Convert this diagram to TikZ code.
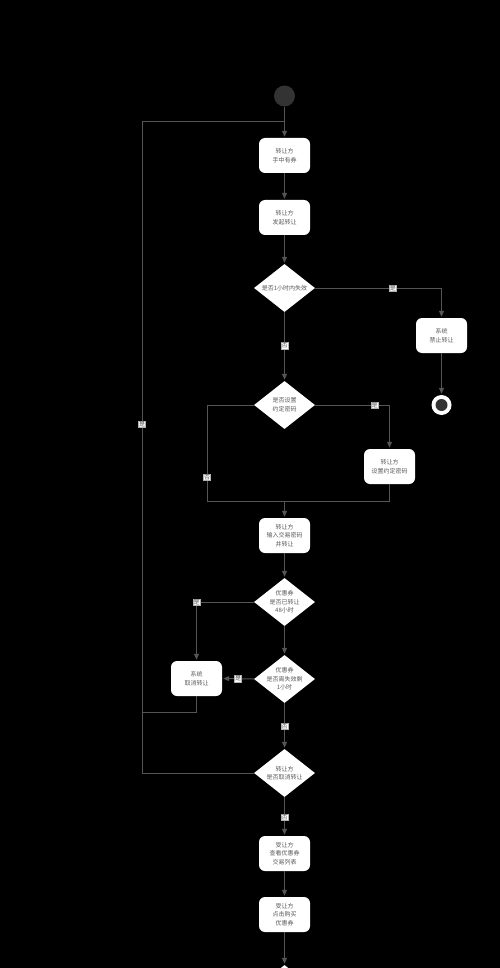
\documentclass[tikz,border=0pt]{standalone}
\usepackage{fontspec}
\newfontfamily\cjk{Noto Sans CJK SC}
\usetikzlibrary{shapes.geometric,arrows.meta}
\definecolor{linec}{HTML}{555555}
\definecolor{txtc}{HTML}{5A5A5A}
\definecolor{darkc}{HTML}{333333}
\begin{document}
\begin{tikzpicture}[x=1pt,y=-1pt,
  box/.style={fill=white, rounded corners=6pt, minimum width=51pt, minimum height=35pt,
    inner sep=1pt, align=center, text=txtc, font=\cjk\fontsize{6}{8.5}\selectfont},
  dec/.style={diamond, fill=white, minimum width=61pt, minimum height=48pt, inner sep=0pt},
  dectext/.style={align=center, text=txtc, inner sep=0pt, font=\cjk\fontsize{6}{8.5}\selectfont},
  line/.style={draw=linec, line width=1pt},
  arr/.style={line, -{Triangle[length=6pt,width=5pt]}, shorten >=1pt},
  lab/.style={fill=white, draw=gray!60, line width=0.3pt, inner sep=0.6pt, text=txtc, font=\cjk\fontsize{6}{6.5}\selectfont}
]
\useasboundingbox[fill=black] (0,0) rectangle (500,968);
\clip (0,0) rectangle (500,968);

% nodes
\node[circle, fill=darkc, minimum size=21pt, inner sep=0pt] (start) at (284.5,96) {};
\node[box] (b1) at (284.5,155.5) {转让方\\手中有券};
\node[box] (b2) at (284.5,217.5) {转让方\\发起转让};
\node[dec] (d1) at (284.5,288) {};
\node[dectext] at (d1) {是否1小时内失效};
\node[box] (stop) at (441.5,335.5) {系统\\禁止转让};
\node[circle, fill=white, minimum size=20pt, inner sep=0pt] (endc) at (441.5,405) {};
\node[circle, fill=darkc, minimum size=12pt, inner sep=0pt] at (endc) {};
\node[dec] (d2) at (284.5,405) {};
\node[dectext] at (d2) {是否设置\\约定密码};
\node[box] (pw) at (389.5,466.5) {转让方\\设置约定密码};
\node[box] (b3) at (284.5,535.5) {转让方\\输入交易密码\\并转让};
\node[dec] (d3) at (284.5,602) {};
\node[dectext] at (d3) {优惠券\\是否已转让\\48小时};
\node[box] (sc) at (196.5,678.5) {系统\\取消转让};
\node[dec] (d4) at (284.5,679) {};
\node[dectext] at (d4) {优惠券\\是否离失效剩\\1小时};
\node[dec] (d5) at (284.5,773) {};
\node[dectext] at (d5) {转让方\\是否取消转让};
\node[box] (b6) at (284.5,853.5) {受让方\\查看优惠券\\交易列表};
\node[box] (b7) at (284.5,914.5) {受让方\\点击购买\\优惠券};
\node[dec] (d6) at (284.5,989) {};

% helper coordinates
\coordinate (j0) at (284.5,122);
\coordinate (lt) at (142,122);
\coordinate (lb) at (142,773);
\coordinate (sj) at (142,712);
\coordinate (ml) at (207,501);
\coordinate (mr) at (389.5,501);
\coordinate (mc) at (284.5,501);

% connectors
\draw[arr] (start) -- (b1);
\draw[arr] (b1) -- (b2);
\draw[arr] (b2) -- (d1);
\draw[arr] (d1.east) -| node[lab,pos=0.307]{是} (stop.north);
\draw[arr] (stop) -- (endc);
\draw[arr] (d1.south) -- node[lab,pos=0.49]{否} (d2.north);
\draw[arr] (d2.east) -| node[lab,pos=0.4]{是} (pw.north);
\draw[line] (d2.west) -| node[lab,pos=0.875]{否} (ml) -- (mr) -- (pw.south);
\draw[arr] (mc) -- (b3);
\draw[arr] (b3) -- (d3);
\draw[arr] (d3.west) -| node[lab,pos=0.5]{是} (sc.north);
\draw[arr] (d3.south) -- (d4.north);
\draw[arr] (d4.west) -- node[lab]{是} (sc.east);
\draw[line] (sc.south) |- (sj);
\draw[arr] (d4.south) -- node[lab,pos=0.5]{否} (d5.north);
\draw[line] (d5.west) -- (lb) -- node[lab,pos=0.536]{是} (lt) -- (j0);
\draw[arr] (d5.south) -- node[lab,pos=0.51]{否} (b6.north);
\draw[arr] (b6) -- (b7);
\draw[arr] (b7) -- (d6);
\end{tikzpicture}
\end{document}
